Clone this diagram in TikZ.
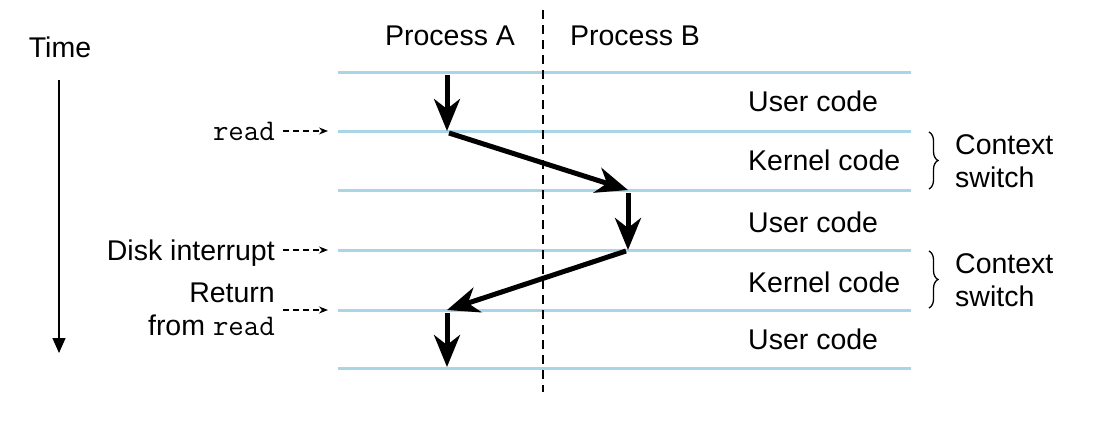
\documentclass[tikz,border=0pt]{standalone}
\usepackage{fontspec}
\setmainfont{Liberation Sans}
\usetikzlibrary{arrows.meta,decorations.pathreplacing}
\definecolor{rowline}{HTML}{A9D5E7}
\tikzset{
  lbl/.style={inner sep=0pt, font=\fontsize{28.5}{33}\selectfont},
  rowrule/.style={draw=rowline, line width=3pt},
  flow/.style={line width=5pt, -{Stealth[length=32pt,width=26pt,inset=10pt]}},
  pointer/.style={line width=1.2pt, dash pattern=on 6pt off 4pt,
    -{Stealth[length=9pt,width=7pt]}},
  divider/.style={line width=1.5pt, dash pattern=on 9pt off 6pt},
  ctxbrace/.style={line width=1.3pt, decorate,
    decoration={brace, amplitude=9pt}},
}
\newcommand{\rd}{{\fontsize{30}{33}\selectfont\ttfamily read}}
\begin{document}
\begin{tikzpicture}[x=1pt, y=-1pt]
  \useasboundingbox (0,0) rectangle (1104,434);

  % horizontal row boundaries
  \foreach \i/\y in {1/72, 2/131, 3/190, 4/250, 5/310, 6/368} {
    \coordinate (L\i) at (338,\y);
    \coordinate (R\i) at (911,\y);
    \draw[rowrule] (L\i) -- (R\i);
  }

  % divider between the two processes
  \coordinate (dtop) at (543,10);
  \coordinate (dbot) at (543,392);
  \draw[divider] (dtop) -- (dbot);

  % column headings
  \node[lbl, anchor=base] (pa) at (450,45) {Process A};
  \node[lbl, anchor=base] (pb) at (635,45) {Process B};

  % time axis
  \node[lbl, anchor=base] (time) at (60,57) {Time};
  \coordinate (t0) at (59,80);
  \coordinate (t1) at (59,353);
  \draw[line width=1.5pt, -{Triangle[length=15pt,width=13pt]}] (t0) -- (t1);

  % control flow between the processes
  \coordinate (a0) at (447,75);
  \coordinate (a1) at (447,131);
  \coordinate (a1s) at (449,133);
  \coordinate (b1) at (628,190);
  \coordinate (b1s) at (628,193);
  \coordinate (b2) at (628,250);
  \coordinate (b2s) at (626,251);
  \coordinate (a2) at (447,310);
  \coordinate (a2s) at (447,313);
  \coordinate (a3) at (447,367);
  \draw[flow] (a0) -- (a1);
  \draw[flow] (a1s) -- (b1);
  \draw[flow] (b1s) -- (b2);
  \draw[flow] (b2s) -- (a2);
  \draw[flow] (a2s) -- (a3);

  % event labels on the left
  \node[lbl, anchor=base east] (ev1) at (275,140) {\rd};
  \node[lbl, anchor=base east] (ev2) at (275,260) {Disk interrupt};
  \node[lbl, anchor=east, align=right] (ev3) at (275,309) {Return\\from \rd};
  \draw[pointer, shorten <=8pt, shorten >=10pt] (ev1.east |- L2) -- (L2);
  \draw[pointer, shorten <=8pt, shorten >=10pt] (ev2.east |- L4) -- (L4);
  \draw[pointer, shorten <=8pt, shorten >=10pt] (ev3.east |- L5) -- (L5);

  % code regions
  \node[lbl, anchor=base west] (u1) at (748,111) {User code};
  \node[lbl, anchor=base west] (k1) at (748,170) {Kernel code};
  \node[lbl, anchor=base west] (u2) at (748,232) {User code};
  \node[lbl, anchor=base west] (k2) at (748,292) {Kernel code};
  \node[lbl, anchor=base west] (u3) at (748,349) {User code};

  % context switch braces
  \coordinate (c1t) at (929,132);
  \coordinate (c1b) at (929,189);
  \coordinate (c2t) at (929,251);
  \coordinate (c2b) at (929,308);
  \draw[ctxbrace] (c1t) -- (c1b);
  \draw[ctxbrace] (c2t) -- (c2b);
  \node[lbl, anchor=west, align=left] (cs1) at (955,161) {Context\\switch};
  \node[lbl, anchor=west, align=left] (cs2) at (955,280) {Context\\switch};
\end{tikzpicture}
\end{document}
